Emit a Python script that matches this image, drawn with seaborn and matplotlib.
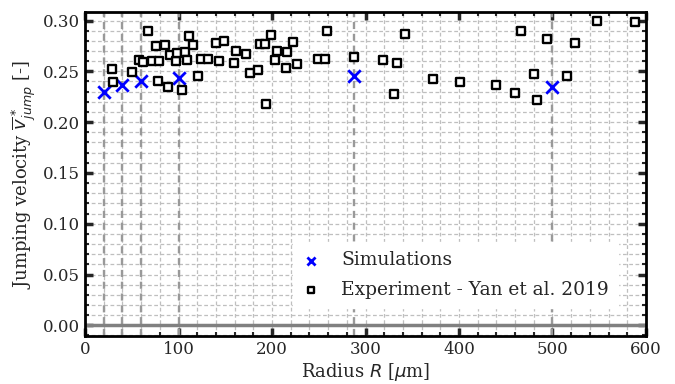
import numpy as np
import pandas as pd
import matplotlib
matplotlib.use("Agg")
import matplotlib.pyplot as plt
from matplotlib.ticker import MultipleLocator
import seaborn as sns

# simulation results
sim_radius = [20, 40, 60, 100, 288, 500]
sim_vjump = [0.230, 0.237, 0.240, 0.243, 0.245, 0.235]

# experiment - Yan et al. 2019
exp_radius = [67.5, 28.8, 30.2, 50.4, 57.9, 62.2, 71.1, 78.9, 76.0, 85.3,
              77.5, 89.2, 91.4, 97.7, 98.8, 106.6, 108.7, 103.4, 111.2, 115.5,
              120.5, 124.4, 131.1, 140.4, 148.9, 142.9, 159.2, 161.7, 172.0, 176.6,
              184.8, 186.9, 192.2, 198.6, 193.3, 205.8, 203.6, 222.8, 215.7, 215.0,
              227.0, 259.0, 249.1, 256.9, 287.5, 318.2, 333.9, 341.8, 330.7, 372.4,
              401.0, 439.8, 459.5, 480.1, 483.0, 466.6, 494.4, 515.1, 524.0, 547.2,
              587.9]
exp_vjump = [0.290, 0.252, 0.2395, 0.2497, 0.2608, 0.2595, 0.2598, 0.2598, 0.2748, 0.2755,
             0.2402, 0.2346, 0.2663, 0.2598, 0.268, 0.2686, 0.2608, 0.2314, 0.285, 0.276,
             0.245, 0.2618, 0.2618, 0.2775, 0.2797, 0.2605, 0.2578, 0.2696, 0.267, 0.248,
             0.251, 0.2771, 0.2771, 0.2853, 0.2176, 0.2703, 0.2608, 0.2787, 0.2690, 0.2533,
             0.2572, 0.2895, 0.2618, 0.2618, 0.2644, 0.2608, 0.2585, 0.2863, 0.2281, 0.2422,
             0.2392, 0.2363, 0.2288, 0.2471, 0.2213, 0.2895, 0.2817, 0.2451, 0.2778, 0.2993,
             0.2984]

sim_df = pd.DataFrame({"R": sim_radius, "v": sim_vjump})
exp_df = pd.DataFrame({"R": exp_radius, "v": exp_vjump})

sns.set_theme(style="ticks")
plt.rcParams["font.family"] = ["DejaVu Serif"]
plt.rcParams["mathtext.fontset"] = "dejavusans"

fig = plt.figure(figsize=(6.75, 3.84), dpi=100)
ax = fig.add_axes([0.126, 0.125, 0.831, 0.844])

ax.grid(True, which="both", ls="--", color="0.75", lw=0.9, dashes=(3, 2))
for r in sim_radius:
    ax.axvline(r, color="0.6", ls="--", lw=1.7, dashes=(3, 2), zorder=1)
ax.axhline(0, color="0.5", lw=2.5, zorder=1)

sns.scatterplot(data=sim_df, x="R", y="v", ax=ax, marker="x", color="blue",
                s=80, linewidth=2, label="Simulations", zorder=3)
sns.scatterplot(data=exp_df, x="R", y="v", ax=ax, marker="s", facecolor="white",
                edgecolor="black", s=36, linewidth=1.7,
                label="Experiment - Yan et al. 2019", zorder=3)

ax.set_xlim(0, 600)
ax.set_ylim(-0.0105, 0.3085)
ax.xaxis.set_major_locator(MultipleLocator(100))
ax.xaxis.set_minor_locator(MultipleLocator(20))
ax.yaxis.set_major_locator(MultipleLocator(0.05))
ax.yaxis.set_minor_locator(MultipleLocator(0.01))
ax.tick_params(which="both", direction="in", top=True, right=True, labelsize=12)
ax.tick_params(which="major", length=6, width=2.5)
ax.tick_params(which="minor", length=3, width=1.5)
for s in ax.spines.values():
    s.set_linewidth(2)
    s.set_color("black")

ax.set_xlabel(r"Radius $R$ [$\mu$m]", fontsize=13, labelpad=2)
ax.set_ylabel(r"Jumping velocity $\overline{v}^*_{jump}$ [-]", fontsize=13)

leg = ax.legend(loc="lower right", bbox_to_anchor=(0.967, 0.058), fontsize=13.4,
                frameon=True, framealpha=1, edgecolor="white", fancybox=False,
                markerscale=0.65, handlelength=1.0, handletextpad=1.1,
                borderpad=0.5, labelspacing=0.6)

fig.savefig("out.png", dpi=100)
